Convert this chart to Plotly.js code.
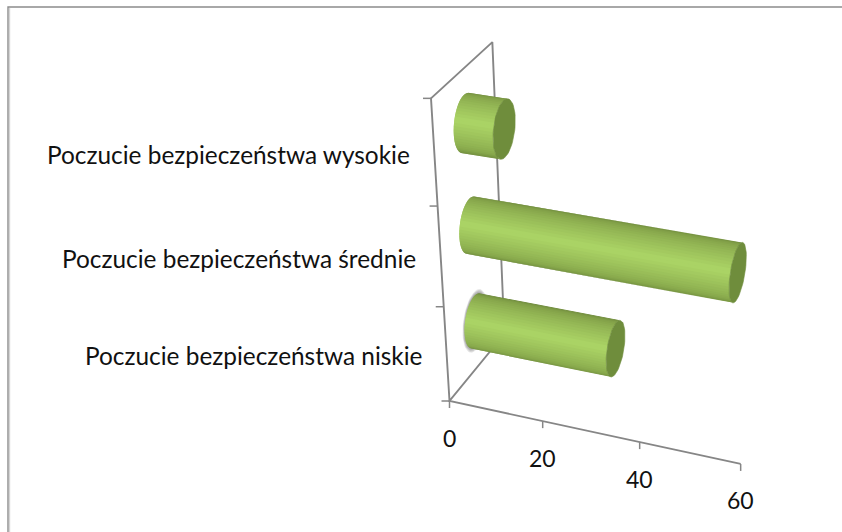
<!DOCTYPE html>
<html><head><meta charset="utf-8">
<script src="https://cdn.plot.ly/plotly-3.0.1.min.js"></script>
<style>html,body{margin:0;padding:0;background:#fff}</style></head>
<body><div id="chart" style="width:842px;height:532px"></div>
<script>
const categories = ["Poczucie bezpieczeństwa niskie","Poczucie bezpieczeństwa średnie","Poczucie bezpieczeństwa wysokie"];
const values = [30, 54, 8];
const valueTicks = [0, 20, 40, 60];
const valueTickLabels = ["0","20","40","60"];

// perspective projection of the chart box: v = value, h = category height, d = depth
function project(v, h, d) {
  const w = 1 - 0.000976*v - 0.0317*h + 0.055*d;
  return [(449.5 + 4.13*v - 19.83*h + 82.6*d)/w, (401 + 0.596*v - 104*h - 48.6*d)/w];
}
const AXIS = '#868686';
const traces = [];
function poly(pts, color, opacity, lw) {
  traces.push({type:'scatter', mode:'lines', x:pts.map(p=>p[0]), y:pts.map(p=>p[1]), fill:'toself',
    fillcolor:color, opacity:opacity===undefined?1:opacity, line:{color:color, width:lw===undefined?0.6:lw}, hoverinfo:'skip', showlegend:false});
}
function line(pts, width, color) {
  traces.push({type:'scatter', mode:'lines', x:pts.map(p=>p[0]), y:pts.map(p=>p[1]),
    line:{color:color||AXIS, width:width||1.9}, hoverinfo:'skip', showlegend:false});
}
// page frame
line([[8,532],[8,7],[842,7]], 1.4, '#8c8c8c');
line([[9.6,532],[9.6,8]], 1.2, '#d4d4d4');
// walls and floor
const nCat = categories.length, vMax = valueTicks[valueTicks.length-1];
line([project(0,0,0), project(0,nCat,0), project(0,nCat,1), project(0,0,1), project(0,0,0), project(vMax,0,0)]);
// ticks
valueTicks.forEach(v => { const p = project(v,0,0); line([p,[p[0],p[1]+7]],1.5); });
for (let h=0;h<=nCat;h++) { const p = project(0,h,0); line([[p[0]-8,p[1]],p],1.5); }

const R_H = 0.265, R_D = 0.19, A0 = -28, A1 = 152, STRIPS = 30;
const stops = [[0,[105,132,55]],[0.12,[130,160,72]],[0.5,[172,213,102]],[0.85,[135,168,76]],[1,[108,135,58]]];
function shade(s) {
  for (let i=1;i<stops.length;i++) if (s<=stops[i][0]) {
    const a=stops[i-1], b=stops[i], f=(s-a[0])/(b[0]-a[0]);
    return 'rgb('+a[1].map((c,k)=>Math.round(c+(b[1][k]-c)*f)).join(',')+')';
  }
  return 'rgb(108,135,58)';
}
function ringPoint(v,h0,deg,scale) {
  const t = deg*Math.PI/180, k = scale||1;
  return project(v, h0 + k*R_H*Math.cos(t), 0.5 - k*R_D*Math.sin(t));
}
function ring(v,h0,scale) { const out=[]; for(let a=0;a<=360;a+=6) out.push(ringPoint(v,h0,a,scale)); return out; }

values.forEach((val,i) => {
  const h0 = i + 0.5;
  if (i===0) [1.14,1.1,1.06,1.03].forEach(k => poly(ring(0,h0,k), '#808080', 0.22));
  for (let s=0;s<STRIPS;s++) {
    const a = A0 + (A1-A0)*s/STRIPS, b = A0 + (A1-A0)*(s+1)/STRIPS;
    // overlap each strip on the next so no seams show between them
    const c = Math.min(A1, b + (A1-A0)/STRIPS);
    poly([ringPoint(0,h0,a),ringPoint(val,h0,a),ringPoint(val,h0,c),ringPoint(0,h0,c)], shade((s+0.5)/STRIPS), 1, 0);
  }
  poly(ring(val,h0), '#6f8d3c');
});

const annotations = [];
function label(p,text,anchor,size) {
  annotations.push({x:p[0],y:p[1],xref:'x',yref:'y',text:text,showarrow:false,xanchor:anchor,yanchor:'middle',
    font:{family:'Lato, Carlito, sans-serif',size:size,color:'#111'}});
}
categories.forEach((c,i) => { const p = project(0,i+0.5,0); label([p[0]-22.5,p[1]+1],c,'right',24.4); });
valueTicks.forEach((v,i) => { const p = project(v,0,0); label([p[0],p[1]+36.5],valueTickLabels[i],'center',23); });

Plotly.newPlot('chart', traces, {
  width:842, height:532, autosize:false, margin:{l:0,r:0,t:0,b:0},
  paper_bgcolor:'#fff', plot_bgcolor:'#fff', showlegend:false, annotations:annotations,
  xaxis:{range:[0,842],visible:false,fixedrange:true},
  yaxis:{range:[532,0],visible:false,fixedrange:true}
}, {displayModeBar:false, staticPlot:true});
</script></body></html>
